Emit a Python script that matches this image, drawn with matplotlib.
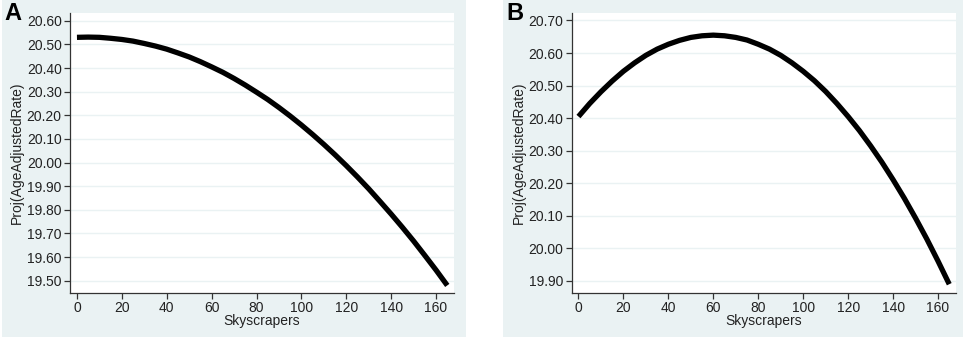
import numpy as np
import matplotlib.pyplot as plt

plt.rcParams['font.family'] = ['Liberation Sans', 'DejaVu Sans']

# values
skyscrapers = [0, 5, 10, 15, 20, 25, 30, 35, 40, 45, 50, 55, 60, 65, 70, 75, 80, 85, 90, 95,
               100, 105, 110, 115, 120, 125, 130, 135, 140, 145, 150, 155, 160, 165]
rate_a = [20.530, 20.531, 20.530, 20.526, 20.521, 20.514, 20.504, 20.493, 20.480, 20.464,
          20.447, 20.427, 20.405, 20.382, 20.356, 20.328, 20.298, 20.267, 20.233, 20.197,
          20.159, 20.119, 20.077, 20.033, 19.987, 19.939, 19.889, 19.836, 19.782, 19.726,
          19.668, 19.607, 19.545, 19.480]
rate_b = [20.405, 20.445, 20.481, 20.514, 20.544, 20.570, 20.593, 20.612, 20.627, 20.639,
          20.648, 20.653, 20.655, 20.653, 20.648, 20.640, 20.627, 20.612, 20.593, 20.570,
          20.544, 20.515, 20.482, 20.445, 20.405, 20.362, 20.315, 20.265, 20.211, 20.154,
          20.093, 20.029, 19.961, 19.890]

xticks = [0, 20, 40, 60, 80, 100, 120, 140, 160]
yticks_a = [19.5, 19.6, 19.7, 19.8, 19.9, 20.0, 20.1, 20.2, 20.3, 20.4, 20.5, 20.6]
yticks_b = [19.9, 20.0, 20.1, 20.2, 20.3, 20.4, 20.5, 20.6, 20.7]

W, H = 969, 340
bg = '#EAF2F3'
axcol = '#333333'

fig = plt.figure(figsize=(W / 100, H / 100), dpi=100)
fig.patch.set_facecolor('white')


def px(x0, y0, x1, y1):
    return [x0 / W, 1 - y1 / H, (x1 - x0) / W, (y1 - y0) / H]


def panel(bgbox, axbox, y, yticks, ylim, letter, lx):
    back = fig.add_axes(px(*bgbox))
    back.set_facecolor(bg)
    back.set_xticks([])
    back.set_yticks([])
    for s in back.spines.values():
        s.set_visible(False)
    back.set_zorder(0)

    ax = fig.add_axes(px(*axbox))
    ax.set_zorder(1)
    ax.set_facecolor('white')
    ax.plot(skyscrapers, y, color='black', lw=3.8, solid_capstyle='butt',
            solid_joinstyle='round')
    ax.set_xlim(-3.1, 168)
    ax.set_ylim(*ylim)
    ax.set_xticks(xticks)
    ax.set_yticks(yticks)
    ax.set_yticklabels(['%.2f' % v for v in yticks])
    ax.grid(axis='y', color=bg, lw=1)
    ax.set_axisbelow(True)
    for s in ['top', 'right']:
        ax.spines[s].set_visible(False)
    for s in ['left', 'bottom']:
        ax.spines[s].set_color(axcol)
        ax.spines[s].set_linewidth(0.9)
    ax.tick_params(colors=axcol, labelcolor='#222222', labelsize=10, length=4, width=0.9, pad=2)
    ax.set_xlabel('Skyscrapers', fontsize=10, color='#222222', labelpad=-1)
    ax.set_ylabel('Proj(AgeAdjustedRate)', fontsize=10, color='#222222', labelpad=2)
    fig.text(lx / W, 1 - 2 / H, letter, fontsize=17, fontweight='bold', va='top', ha='left')


panel((2, 0, 466, 337), (70, 13, 454, 293), rate_a, yticks_a, (19.448, 20.633), 'A', 4)
panel((503, 0, 963, 337), (571.5, 13, 956, 293), rate_b, yticks_b, (19.863, 20.723), 'B', 506)

fig.savefig('out.png', dpi=100, facecolor='white')
